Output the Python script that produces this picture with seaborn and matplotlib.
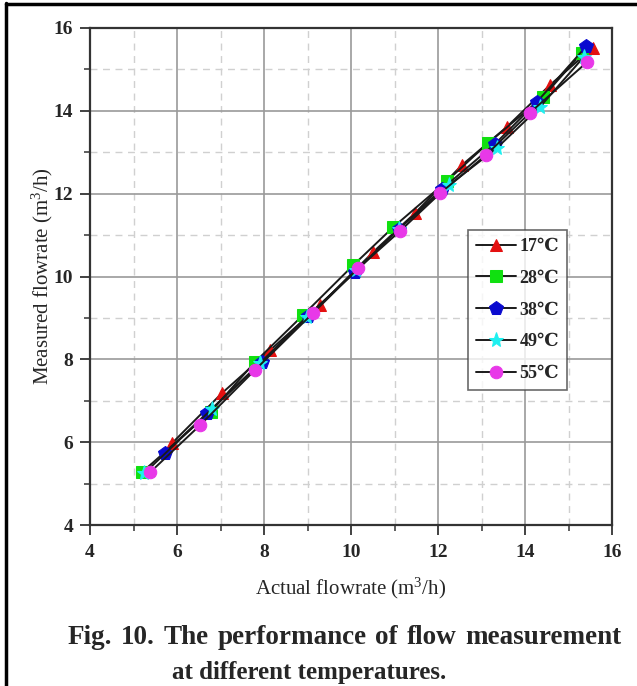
import matplotlib
matplotlib.use("Agg")
import matplotlib.pyplot as plt
from matplotlib.lines import Line2D
from matplotlib.ticker import MultipleLocator
import seaborn as sns
import pandas as pd

# ---- data ----
labels = ["17℃", "28℃", "38℃", "49℃", "55℃"]
x_17 = [5.89, 7.03, 8.14, 9.29, 10.51, 11.47, 12.55, 13.58, 14.57, 15.56]
y_17 = [5.98, 7.18, 8.22, 9.31, 10.59, 11.53, 12.69, 13.61, 14.62, 15.52]
x_28 = [5.19, 6.78, 7.79, 8.90, 10.05, 10.97, 12.20, 13.15, 14.41, 15.31]
y_28 = [5.27, 6.74, 7.93, 9.07, 10.27, 11.19, 12.30, 13.22, 14.33, 15.40]
x_38 = [5.72, 6.69, 7.95, 9.00, 10.09, 11.10, 12.10, 13.31, 14.27, 15.41]
y_38 = [5.74, 6.70, 7.93, 9.05, 10.10, 11.15, 12.12, 13.20, 14.21, 15.56]
x_49 = [5.25, 6.80, 7.90, 8.99, 10.12, 11.10, 12.25, 13.35, 14.34, 15.35]
y_49 = [5.25, 6.80, 7.90, 9.02, 10.15, 11.15, 12.20, 13.10, 14.09, 15.30]
x_55 = [5.38, 6.53, 7.79, 9.13, 10.17, 11.13, 12.05, 13.10, 14.11, 15.43]
y_55 = [5.27, 6.41, 7.74, 9.12, 10.20, 11.10, 12.01, 12.93, 13.95, 15.18]
xs = [x_17, x_28, x_38, x_49, x_55]
ys = [y_17, y_28, y_38, y_49, y_55]

caption_line1 = ["Fig.", "10.", "The", "performance", "of", "flow", "measurement"]
caption_line2 = "at different temperatures."

colors = ["#E41010", "#10E010", "#0A0ACF", "#1EF0F0", "#E838E8"]
markers = ["^", "s", "p", "*", "o"]
msizes = [9, 8, 10, 11, 9]

sns.set_style("white")
plt.rcParams["font.family"] = ["Liberation Serif", "DejaVu Serif"]
plt.rcParams["mathtext.fontset"] = "custom"
plt.rcParams["mathtext.rm"] = "Liberation Serif"
plt.rcParams["mathtext.it"] = "Liberation Serif:italic"
plt.rcParams["mathtext.bf"] = "Liberation Serif:bold"

fig = plt.figure(figsize=(6.37, 6.86), dpi=100)
ax = fig.add_axes([90/637, 1-525/686, 522/637, 497/686])

for lab, x, y, c, m, s in zip(labels, xs, ys, colors, markers, msizes):
    df = pd.DataFrame({"x": x, "y": y})
    sns.lineplot(data=df, x="x", y="y", ax=ax, sort=False, color="#1a1a1a",
                 lw=1.4, marker=m, markersize=s, markerfacecolor=c,
                 markeredgecolor=c, label=lab, zorder=3)

ax.set_xlim(4, 16)
ax.set_ylim(4, 16)
ax.xaxis.set_major_locator(MultipleLocator(2))
ax.yaxis.set_major_locator(MultipleLocator(2))
ax.xaxis.set_minor_locator(MultipleLocator(1))
ax.yaxis.set_minor_locator(MultipleLocator(1))
ax.grid(which="major", color="#9a9a9a", lw=1.2, ls="-", zorder=0)
ax.grid(which="minor", color="#d0d0d0", lw=1.0, ls=(0, (5, 4)), zorder=0)
ax.set_axisbelow(True)
for sp in ax.spines.values():
    sp.set_color("#333333")
    sp.set_linewidth(1.6)
ax.tick_params(which="major", direction="out", length=7, width=1.3,
               color="#333333", bottom=True, left=True)
ax.tick_params(axis="x", which="major", pad=7)
ax.tick_params(axis="y", which="major", pad=5)
ax.tick_params(which="minor", direction="out", length=4, width=1.1,
               color="#333333", bottom=True, left=True)
for t in ax.get_xticklabels() + ax.get_yticklabels():
    t.set_fontweight("bold")
    t.set_fontsize(14)

ax.set_xlabel("Actual flowrate (m$^3$/h)", fontsize=15, labelpad=10)
ax.set_ylabel("Measured flowrate (m$^3$/h)", fontsize=15, labelpad=-1)

leg = ax.legend(loc="upper left", bbox_to_anchor=(0.724, 0.594),
                borderaxespad=0, frameon=True, fancybox=False,
                edgecolor="#444444", handlelength=2.2, handletextpad=0.2,
                labelspacing=0.82, borderpad=0.45,
                prop={"weight": "bold", "size": 13})
leg.get_frame().set_linewidth(1.2)

# caption: first line spread between x=68 and x=621 px
renderer = fig.canvas.get_renderer()
y1 = 1 - 637/686
words = [fig.text(0, y1, w, ha="left", va="center", fontsize=19.5,
                  fontweight="bold") for w in caption_line1]
widths = [w.get_window_extent(renderer).width for w in words]
left_px, right_px = 68, 621
gap = (right_px - left_px - sum(widths)) / (len(words) - 1)
xpos = left_px
for w, wd in zip(words, widths):
    w.set_x(xpos / 637)
    xpos += wd + gap
fig.text(172/637, 1-672/686, caption_line2, ha="left", va="center",
         fontsize=18, fontweight="bold")

fig.add_artist(Line2D([6/637, 6/637], [0, 1-3/686], transform=fig.transFigure,
                      color="black", lw=2.5))
fig.add_artist(Line2D([6/637, 1], [1-4/686, 1-4/686], transform=fig.transFigure,
                      color="black", lw=2.5))

fig.savefig("out.png", dpi=100)
